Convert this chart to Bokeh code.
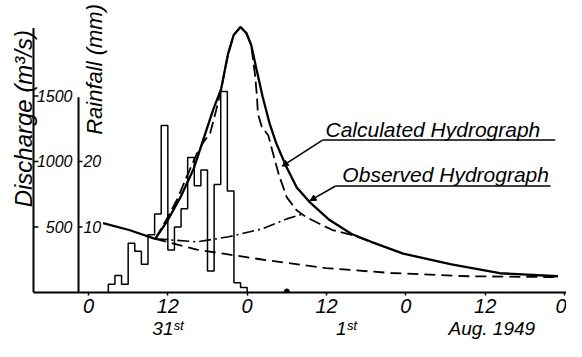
import numpy as np
from bokeh.plotting import figure
from bokeh.models import Range1d, FixedTicker, Label, Arrow, NormalHead, LinearAxis
from bokeh.embed import file_html
from bokeh.resources import INLINE

# ---------------- data ----------------
# hourly rainfall (mm), first bar starts at hour 3 of Aug 31st
rain_start_hour = 3
rain_mm = [1.25, 2.6, 1.25, 7.5, 6.3, 4.3, 8.8, 12.0, 25.5, 6.5, 10.0,
           12.8, 20.6, 16.3, 18.7, 3.3, 16.5, 30.7, 15.5, 1.5, 0.75]

# solid hydrograph (hours from Aug 31st 0h, discharge m3/s)
solid_hours = [2.2, 6.15, 10.1, 12.0, 13.9, 15.96, 17.57, 18.9, 20.06, 21.08,
               21.96, 22.99, 23.87, 24.6, 25.48, 26.35, 27.4, 28.4, 29.87, 31.5,
               33.5, 36.46, 39.8, 42.75, 47.6, 54.9, 62.2, 71.0]
solid_q = [530, 477, 410, 553, 726, 951, 1199, 1402, 1553, 1816,
           1966, 2026, 1981, 1891, 1688, 1492, 1289, 1139, 966, 801,
           688, 553, 447, 387, 297, 214, 147, 124]

# dashed hydrograph
dashed_hours = [10.1, 12.0, 13.5, 14.9, 16.4, 17.4, 18.4, 19.3, 20.1, 21.1,
                21.96, 22.99, 23.87, 24.6, 25.18, 25.48, 25.62, 26.2, 27.2, 28.1,
                28.84, 30.0, 31.48, 32.94, 35.0, 36.9, 39.8, 42.75]
dashed_q = [410, 575, 720, 890, 1060, 1150, 1215, 1390, 1560, 1816,
            1966, 2026, 1981, 1891, 1665, 1500, 1365, 1267, 1199, 1026,
            891, 726, 628, 575, 523, 477, 440, 387]

# base-flow recession (long dashes)
recession_hours = [10.1, 16.4, 26.2, 35.9, 45.7, 57.4, 71.0]
recession_q = [410, 327, 252, 186, 149, 124, 117]

# base-flow separation (dash-dot)
separation_hours = [10.1, 16.4, 21.2, 26.2, 30.0, 32.5]
separation_q = [410, 387, 425, 485, 562, 600]

marker_hours = [30]

x_ticks = [0, 12, 24, 36, 48, 60, 72]
x_tick_labels = ["0", "12", "0", "12", "0", "12", "0"]
date_label_hours = [12, 39, 61]
date_labels = ["31ˢᵗ", "1ˢᵗ", "Aug. 1949"]
q_ticks = [500, 1000, 1500]
q_tick_labels = ["500", "1000", "1500"]
rain_ticks = [10, 20]
rain_tick_labels = ["10", "20"]

FONT = "Liberation Sans"
RAIN_SCALE = 50.0  # 10 mm of rain drawn at the 500 m3/s level

# ---------------- figure ----------------
q_lo, q_hi = 0, 2229
p = figure(width=566, height=341, x_range=Range1d(-13.31, 72.30),
           y_range=Range1d(q_lo, q_hi), output_backend="svg",
           toolbar_location=None, min_border_left=0, min_border_right=0,
           min_border_top=0, min_border_bottom=45, y_axis_location=None)
p.extra_y_ranges = {"rain": Range1d(q_lo / RAIN_SCALE, q_hi / RAIN_SCALE)}
p.outline_line_color = None
p.xgrid.visible = False
p.ygrid.visible = False
p.background_fill_color = "white"
p.border_fill_color = "white"

xa = p.xaxis[0]
xa.ticker = FixedTicker(ticks=x_ticks)
xa.major_label_overrides = {t: s for t, s in zip(x_ticks, x_tick_labels)}
xa.bounds = (-8.32, 72.30)
xa.axis_line_width = 2
xa.major_tick_out = 3
xa.major_tick_in = 0
xa.major_tick_line_width = 1.5
xa.minor_tick_line_color = None
xa.major_label_standoff = 3
xa.major_label_text_font = FONT
xa.major_label_text_font_style = "italic"
xa.major_label_text_font_size = "20px"
xa.major_label_text_color = "black"

xa2 = LinearAxis(ticker=FixedTicker(ticks=date_label_hours),
                 major_label_overrides={t: s for t, s in zip(date_label_hours, date_labels)},
                 axis_line_color=None, major_tick_line_color=None,
                 minor_tick_line_color=None, major_label_standoff=-4,
                 major_label_text_font=FONT, major_label_text_font_style="italic",
                 major_label_text_font_size="19px", major_label_text_color="black")
p.add_layout(xa2, "below")

def txt(x, y, s, size, align="left", baseline="middle", angle=0.0, **kw):
    p.add_layout(Label(x=x, y=y, text=s, text_font=FONT, text_font_style="italic",
                       text_font_size=size, text_align=align, text_baseline=baseline,
                       angle=angle, text_color="black", **kw))

# discharge axis (left, labels on its right side)
q_axis_x = -8.32
p.segment(x0=[q_axis_x], y0=[q_lo], x1=[q_axis_x], y1=[2019],
          line_color="black", line_width=2)
p.segment(x0=[q_axis_x] * len(q_ticks), y0=q_ticks,
          x1=[q_axis_x + 0.75] * len(q_ticks), y1=q_ticks,
          line_color="black", line_width=1.5)
for t, s in zip(q_ticks, q_tick_labels):
    txt(-2.42, t, s, "16px", align="right")

# rainfall axis (drawn on the rain scale)
rain_axis_x = -1.51
p.segment(x0=[rain_axis_x], y0=[q_lo / RAIN_SCALE], x1=[rain_axis_x], y1=[29.8],
          y_range_name="rain", line_color="black", line_width=2)
p.segment(x0=[rain_axis_x] * len(rain_ticks), y0=rain_ticks,
          x1=[rain_axis_x + 0.6] * len(rain_ticks), y1=rain_ticks,
          y_range_name="rain", line_color="black", line_width=1.5)
for t, s in zip(rain_ticks, rain_tick_labels):
    p.add_layout(Label(x=rain_axis_x + 0.75, y=t, y_range_name="rain", text=s,
                       text_font=FONT, text_font_style="italic", text_font_size="16px",
                       text_align="left", text_baseline="middle", text_color="black"))

# rainfall hyetograph outline
edges = rain_start_hour + np.arange(len(rain_mm) + 1)
hx = np.repeat(edges, 2)
hy = np.concatenate([[0.0], np.repeat(rain_mm, 2), [0.0]])
p.line(hx, hy, y_range_name="rain", line_color="black", line_width=1.5)

# hydrographs
p.line(recession_hours, recession_q, line_color="black", line_width=1.8, line_dash="11 6")
p.line(separation_hours, separation_q, line_color="black", line_width=1.6, line_dash="12 4 2 4")
p.line(dashed_hours, dashed_q, line_color="black", line_width=1.8, line_dash="12 5")
p.line(solid_hours, solid_q, line_color="black", line_width=2.3)
p.scatter(marker_hours, [8] * len(marker_hours), size=5, color="black")

# annotations
txt(35.85, 1248, "Calculated Hydrograph", "21px")
p.segment(x0=[35.4], y0=[1164], x1=[70.6], y1=[1164], line_color="black", line_width=1.5)
p.add_layout(Arrow(end=NormalHead(size=6, fill_color="black", line_color="black"),
                   x_start=35.4, y_start=1164, x_end=29.3, y_end=964,
                   line_color="black", line_width=1.5))

txt(38.4, 898, "Observed Hydrograph", "21px")
p.segment(x0=[37.36], y0=[813], x1=[69.9], y1=[813], line_color="black", line_width=1.5)
p.add_layout(Arrow(end=NormalHead(size=6, fill_color="black", line_color="black"),
                   x_start=37.36, y_start=813, x_end=33.5, y_end=701,
                   line_color="black", line_width=1.5))

txt(-9.83, 1327, "Discharge (m³/s)", "24px", align="center", angle=np.pi / 2)
txt(0.91, 1703, "Rainfall (mm)", "22px", align="center", angle=np.pi / 2)

open("out.html", "w").write(file_html(p, INLINE))
